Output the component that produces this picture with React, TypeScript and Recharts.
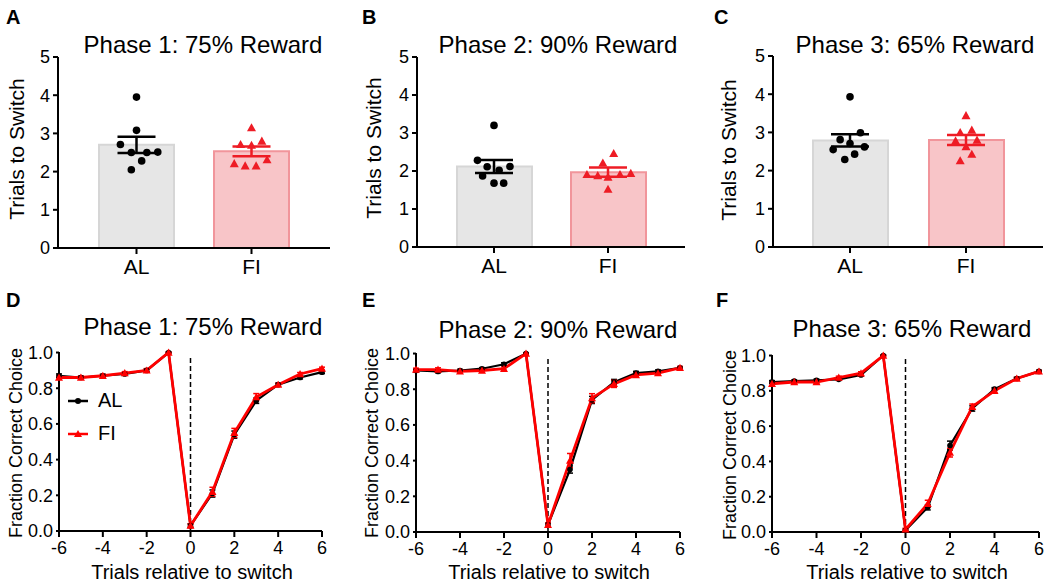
import React from 'react';
import {
  ComposedChart,
  Bar,
  Cell,
  XAxis,
  YAxis,
  Scatter,
  ErrorBar,
  Line,
  ReferenceLine,
  Legend,
} from 'recharts';

const FONT = '"Liberation Sans", Arial, Helvetica, sans-serif';

// ---------- data ----------
const phaseTitles = ['Phase 1: 75% Reward', 'Phase 2: 90% Reward', 'Phase 3: 65% Reward'];
const panelLettersTop = ['A', 'B', 'C'];
const panelLettersBottom = ['D', 'E', 'F'];
const groups = ['AL', 'FI'];

// bar means and SEM per phase [AL, FI]
const barMeans = [
  [2.7, 2.53],
  [2.12, 1.97],
  [2.79, 2.8],
];
const barSems = [
  [0.21, 0.13],
  [0.17, 0.12],
  [0.16, 0.13],
];

// individual animals (values) and horizontal jitter (category units)
const alPoints = [
  [3.95, 3.08, 2.71, 2.5, 2.5, 2.51, 2.28, 2.05],
  [3.2, 2.28, 2.11, 2.02, 2.12, 1.87, 1.68, 1.68],
  [3.93, 2.99, 2.81, 2.71, 2.62, 2.55, 2.43, 2.29],
];
const alJitter = [
  [0, 0, -0.28, -0.09, 0.18, 0.37, 0.09, -0.09],
  [0, -0.29, -0.12, 0.09, 0.28, -0.2, 0, 0.17],
  [0, 0.18, -0.17, 0, 0.25, -0.29, 0.08, -0.09],
];
const fiPoints = [
  [3.15, 2.8, 2.71, 2.69, 2.31, 2.21, 2.15, 2.15],
  [2.46, 2.21, 1.91, 1.88, 1.84, 1.91, 1.94, 1.52],
  [3.44, 3.06, 3.0, 2.78, 2.8, 2.63, 2.43, 2.26],
];
const fiJitter = [
  [0, 0.18, -0.19, 0, 0.27, -0.3, -0.11, 0.08],
  [0.1, -0.09, -0.37, -0.18, 0, 0.21, 0.4, 0],
  [0, 0.1, -0.1, -0.18, 0.19, 0, 0.1, -0.1],
];

const barTicks = [0, 1, 2, 3, 4, 5];

// curves: trials relative to switch
const trials = [-6, -5, -4, -3, -2, -1, 0, 1, 2, 3, 4, 5, 6];
const trialTicks = [-6, -4, -2, 0, 2, 4, 6];
const fracTicks = [0, 0.2, 0.4, 0.6, 0.8, 1.0];

const alCurve = [
  [0.87, 0.86, 0.87, 0.88, 0.9, 1.0, 0.03, 0.21, 0.54, 0.73, 0.82, 0.86, 0.89],
  [0.905, 0.9, 0.905, 0.915, 0.94, 1.0, 0.04, 0.35, 0.74, 0.84, 0.89, 0.9, 0.92],
  [0.85, 0.855, 0.86, 0.865, 0.89, 1.0, 0.01, 0.14, 0.49, 0.7, 0.81, 0.87, 0.91],
];
const alCurveErr = [
  [0.01, 0.008, 0.008, 0.008, 0.008, 0.003, 0.01, 0.02, 0.02, 0.015, 0.008, 0.008, 0.008],
  [0.008, 0.008, 0.006, 0.006, 0.008, 0.003, 0.01, 0.02, 0.02, 0.015, 0.01, 0.008, 0.006],
  [0.008, 0.006, 0.006, 0.006, 0.006, 0.003, 0.006, 0.015, 0.025, 0.015, 0.008, 0.006, 0.006],
];
const fiCurve = [
  [0.86, 0.86, 0.87, 0.885, 0.9, 1.0, 0.03, 0.22, 0.55, 0.75, 0.82, 0.88, 0.91],
  [0.91, 0.91, 0.9, 0.905, 0.915, 1.0, 0.04, 0.4, 0.75, 0.83, 0.88, 0.89, 0.92],
  [0.84, 0.85, 0.85, 0.875, 0.9, 1.0, 0.015, 0.16, 0.45, 0.71, 0.8, 0.87, 0.91],
];
const fiCurveErr = [
  [0.008, 0.008, 0.008, 0.008, 0.01, 0.003, 0.01, 0.025, 0.025, 0.02, 0.008, 0.008, 0.008],
  [0.008, 0.01, 0.01, 0.01, 0.01, 0.003, 0.01, 0.04, 0.025, 0.02, 0.01, 0.01, 0.008],
  [0.01, 0.008, 0.008, 0.008, 0.008, 0.003, 0.006, 0.02, 0.025, 0.015, 0.01, 0.006, 0.006],
];

// ---------- styles ----------
const RED = '#ee1c25';
const LINE_RED = '#ff0000';
const barFill = ['#e6e6e6', '#f8c5c8'];
const barStroke = ['#d6d6d6', '#f1959b'];

const axisLine = { stroke: '#000', strokeWidth: 2 };
const tickLine = { stroke: '#000', strokeWidth: 2 };

const circleShape = (r: number, color: string) => (p: any) => (
  <circle cx={p.cx} cy={p.cy} r={r} fill={color} />
);
const triangleShape = (s: number, color: string) => (p: any) => (
  <polygon
    points={`${p.cx},${p.cy - s} ${p.cx - s},${p.cy + s * 0.8} ${p.cx + s},${p.cy + s * 0.8}`}
    fill={color}
  />
);
const nullShape = () => <g />;

const topLayout = [
  { left: 0, yW: 58, mTop: 57, mRight: 20, xH: 42, pad: 21 },
  { left: 350, yW: 67, mTop: 57, mRight: 15, xH: 43, pad: 20 },
  { left: 700, yW: 73, mTop: 56, mRight: 7, xH: 43, pad: 19 },
];
const bottomLayout = [
  { left: 0, yW: 59, mTop: 62, mRight: 28, xH: 57 },
  { left: 350, yW: 66, mTop: 63, mRight: 20, xH: 56 },
  { left: 700, yW: 72, mTop: 65, mRight: 11, xH: 56 },
];

function BarPanel({ i }: { i: number }) {
  const L = topLayout[i];
  const data = groups.map((g, k) => ({ name: g, y: barMeans[i][k] }));
  const alPts = alPoints[i].map((v, k) => ({ x: 1 + alJitter[i][k], y: v }));
  const fiPts = fiPoints[i].map((v, k) => ({ x: 3 + fiJitter[i][k], y: v }));
  const alMean = [{ x: 1, y: barMeans[i][0], err: barSems[i][0] }];
  const fiMean = [{ x: 3, y: barMeans[i][1], err: barSems[i][1] }];
  return (
    <div style={{ position: 'absolute', left: L.left, top: 0 }}>
      <ComposedChart
        width={350}
        height={290}
        data={data}
        margin={{ top: L.mTop, right: L.mRight, bottom: 0, left: 0 }}
        style={{ fontFamily: FONT }}
      >
        <XAxis
          xAxisId="cat"
          dataKey="name"
          type="category"
          height={L.xH}
          padding={{ left: L.pad, right: L.pad }}
          axisLine={axisLine}
          tickLine={tickLine}
          tickSize={6}
          tickMargin={5}
          tick={{ fill: '#000', fontSize: 21, fontFamily: FONT }}
        />
        <XAxis
          xAxisId="num"
          dataKey="x"
          type="number"
          domain={[0, 4]}
          padding={{ left: L.pad, right: L.pad }}
          hide
        />
        <YAxis
          dataKey="y"
          type="number"
          domain={[0, 5]}
          ticks={barTicks}
          width={L.yW}
          axisLine={axisLine}
          tickLine={tickLine}
          tickSize={5}
          tickMargin={3}
          tick={{ fill: '#000', fontSize: 18, fontFamily: FONT }}
        />
        <Bar xAxisId="cat" dataKey="y" barSize={75} isAnimationActive={false}>
          {data.map((d, k) => (
            <Cell key={d.name} fill={barFill[k]} stroke={barStroke[k]} strokeWidth={2} />
          ))}
        </Bar>
        <Scatter
          xAxisId="num"
          data={alPts}
          dataKey="y"
          shape={circleShape(3.8, '#000')}
          isAnimationActive={false}
        />
        <Scatter
          xAxisId="num"
          data={fiPts}
          dataKey="y"
          shape={triangleShape(4.5, RED)}
          isAnimationActive={false}
        />
        <Scatter xAxisId="num" data={alMean} dataKey="y" shape={nullShape} isAnimationActive={false}>
          <ErrorBar dataKey="err" direction="y" width={19} stroke="#000" strokeWidth={2.5} />
        </Scatter>
        <Scatter xAxisId="num" data={fiMean} dataKey="y" shape={nullShape} isAnimationActive={false}>
          <ErrorBar dataKey="err" direction="y" width={19} stroke={RED} strokeWidth={2.5} />
        </Scatter>
      </ComposedChart>
    </div>
  );
}

const renderLegend = () => (
  <div style={{ fontFamily: FONT, fontSize: 20, color: '#000' }}>
    {groups.map((g, k) => (
      <div key={g} style={{ display: 'flex', alignItems: 'center', height: 33 }}>
        <svg width={22} height={14} style={{ marginRight: 9 }}>
          <line x1={1} y1={7} x2={21} y2={7} stroke={k === 0 ? '#000' : LINE_RED} strokeWidth={2.5} />
          {k === 0 ? (
            <circle cx={11} cy={7} r={3} fill="#000" />
          ) : (
            <polygon points="11,3 7,10 15,10" fill={LINE_RED} />
          )}
        </svg>
        <span>{g}</span>
      </div>
    ))}
  </div>
);

function LinePanel({ i }: { i: number }) {
  const L = bottomLayout[i];
  const data = trials.map((t, k) => ({
    t,
    al: alCurve[i][k],
    alErr: alCurveErr[i][k],
    fi: fiCurve[i][k],
    fiErr: fiCurveErr[i][k],
  }));
  const alDot = (p: any) => <circle key={`a${p.index}`} cx={p.cx} cy={p.cy} r={2.8} fill="#000" />;
  const fiDot = (p: any) => (
    <polygon
      key={`f${p.index}`}
      points={`${p.cx},${p.cy - 4} ${p.cx - 4},${p.cy + 3.2} ${p.cx + 4},${p.cy + 3.2}`}
      fill={LINE_RED}
    />
  );
  return (
    <div style={{ position: 'absolute', left: L.left, top: 290 }}>
      <ComposedChart
        width={350}
        height={298}
        data={data}
        margin={{ top: L.mTop, right: L.mRight, bottom: 0, left: 0 }}
        style={{ fontFamily: FONT }}
      >
        <XAxis
          dataKey="t"
          type="number"
          domain={[-6, 6]}
          ticks={trialTicks}
          height={L.xH}
          axisLine={axisLine}
          tickLine={tickLine}
          tickSize={6}
          tickMargin={4}
          tick={{ fill: '#000', fontSize: 18, fontFamily: FONT }}
        />
        <YAxis
          type="number"
          domain={[0, 1]}
          ticks={fracTicks}
          tickFormatter={(v: number) => v.toFixed(1)}
          width={L.yW}
          axisLine={axisLine}
          tickLine={tickLine}
          tickSize={3}
          tickMargin={3}
          tick={{ fill: '#000', fontSize: 18, fontFamily: FONT }}
        />
        <ReferenceLine
          segment={[
            { x: 0, y: 0 },
            { x: 0, y: 0.98 },
          ]}
          stroke="#000"
          strokeWidth={1.5}
          strokeDasharray="5 3"
        />
        <Line
          dataKey="al"
          name="AL"
          stroke="#000"
          strokeWidth={2.2}
          dot={alDot}
          activeDot={false}
          isAnimationActive={false}
        >
          <ErrorBar dataKey="alErr" direction="y" width={3} stroke="#000" strokeWidth={1.5} />
        </Line>
        <Line
          dataKey="fi"
          name="FI"
          stroke={LINE_RED}
          strokeWidth={2.8}
          dot={fiDot}
          activeDot={false}
          isAnimationActive={false}
        >
          <ErrorBar dataKey="fiErr" direction="y" width={3} stroke={LINE_RED} strokeWidth={1.5} />
        </Line>
        {i === 0 && (
          <Legend
            layout="vertical"
            align="center"
            verticalAlign="middle"
            content={renderLegend}
            wrapperStyle={{ left: 67, top: 94, width: 90, height: 66 }}
          />
        )}
      </ComposedChart>
    </div>
  );
}

// text overlay positions (labels only)
const letterPosTop = [
  [6, 24],
  [362, 24],
  [714, 24],
];
const letterPosBottom = [
  [6, 307],
  [362, 307],
  [716, 307],
];
const titlePosTop = [
  [203, 53],
  [558, 53],
  [915, 53],
];
const titlePosBottom = [
  [203, 335],
  [558, 338],
  [912, 337],
];
const yLabelTop = [
  [24, 149],
  [381, 148],
  [736, 150],
];
const yLabelBottom = [
  [22, 443],
  [378, 443],
  [736, 445],
];
const xLabelBottom = [
  [192, 579],
  [549, 579],
  [907, 579],
];

function Overlay() {
  return (
    <svg
      width={1050}
      height={588}
      style={{ position: 'absolute', left: 0, top: 0, pointerEvents: 'none' }}
      fontFamily={FONT}
    >
      {panelLettersTop.map((l, k) => (
        <text key={l} x={letterPosTop[k][0]} y={letterPosTop[k][1]} fontSize={20} fontWeight="bold">
          {l}
        </text>
      ))}
      {panelLettersBottom.map((l, k) => (
        <text key={l} x={letterPosBottom[k][0]} y={letterPosBottom[k][1]} fontSize={20} fontWeight="bold">
          {l}
        </text>
      ))}
      {phaseTitles.map((t, k) => (
        <text key={'tt' + k} x={titlePosTop[k][0]} y={titlePosTop[k][1]} fontSize={24} textAnchor="middle">
          {t}
        </text>
      ))}
      {phaseTitles.map((t, k) => (
        <text key={'tb' + k} x={titlePosBottom[k][0]} y={titlePosBottom[k][1]} fontSize={24} textAnchor="middle">
          {t}
        </text>
      ))}
      {yLabelTop.map((p, k) => (
        <text
          key={'yt' + k}
          transform={`translate(${p[0]},${p[1]}) rotate(-90)`}
          fontSize={21}
          textAnchor="middle"
        >
          Trials to Switch
        </text>
      ))}
      {yLabelBottom.map((p, k) => (
        <text
          key={'yb' + k}
          transform={`translate(${p[0]},${p[1]}) rotate(-90)`}
          fontSize={18}
          textAnchor="middle"
        >
          Fraction Correct Choice
        </text>
      ))}
      {xLabelBottom.map((p, k) => (
        <text key={'xb' + k} x={p[0]} y={p[1]} fontSize={20} textAnchor="middle">
          Trials relative to switch
        </text>
      ))}
    </svg>
  );
}

export default function App() {
  return (
    <div
      style={{
        position: 'absolute',
        left: 0,
        top: 0,
        width: 1050,
        height: 588,
        background: '#fff',
        overflow: 'hidden',
      }}
    >
      {[0, 1, 2].map((i) => (
        <BarPanel key={'b' + i} i={i} />
      ))}
      {[0, 1, 2].map((i) => (
        <LinePanel key={'l' + i} i={i} />
      ))}
      <Overlay />
    </div>
  );
}
